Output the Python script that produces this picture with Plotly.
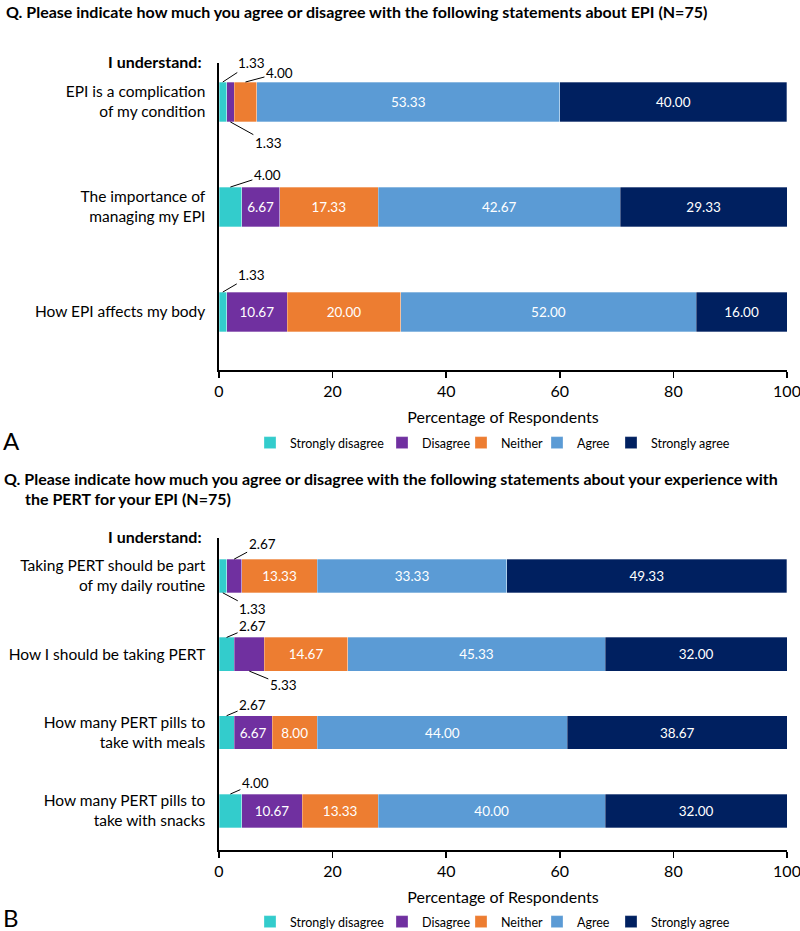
import plotly.graph_objects as go

# ---------------- data ----------------
series_names = ["Strongly disagree", "Disagree", "Neither", "Agree", "Strongly agree"]
series_colors = ["#33CCCC", "#7030A0", "#ED7D31", "#5B9BD5", "#002060"]

categories_A = ["EPI is a complication<br>of my condition",
                "The importance of<br>managing my EPI",
                "How EPI affects my body"]
A_strongly_disagree = [1.33, 4.00, 1.33]
A_disagree = [1.33, 6.67, 10.67]
A_neither = [4.00, 17.33, 20.00]
A_agree = [53.33, 42.67, 52.00]
A_strongly_agree = [40.00, 29.33, 16.00]

categories_B = ["Taking PERT should be part<br>of my daily routine",
                "How I should be taking PERT",
                "How many PERT pills to<br>take with meals",
                "How many PERT pills to<br>take with snacks"]
B_strongly_disagree = [1.33, 2.67, 2.67, 4.00]
B_disagree = [2.67, 5.33, 6.67, 10.67]
B_neither = [13.33, 14.67, 8.00, 13.33]
B_agree = [33.33, 45.33, 44.00, 40.00]
B_strongly_agree = [49.33, 32.00, 38.67, 32.00]

x_ticks = [0, 20, 40, 60, 80, 100]

title_A = "Q. Please indicate how much you agree or disagree with the following statements about EPI (N=75)"
title_B1 = "Q. Please indicate how much you agree or disagree with the following statements about your experience with"
title_B2 = "the PERT for your EPI (N=75)"

# outside labels: (panel, row, series index) -> (side, ax, ay)
outside_labels = {
    ("A", 0, 0): ("above", 29, -19),
    ("A", 0, 2): ("above", 34, -9),
    ("A", 0, 1): ("below", 38, 21),
    ("A", 1, 0): ("above", 37, -12),
    ("A", 2, 0): ("above", 29, -17),
    ("B", 0, 1): ("above", 28, -15),
    ("B", 0, 0): ("below", 30, 16),
    ("B", 1, 0): ("above", 26, -11),
    ("B", 1, 1): ("below", 34, 14),
    ("B", 2, 0): ("above", 26, -11),
    ("B", 3, 0): ("above", 25, -11),
}

# legend entry left positions (px) for each series
legend_x_px = [250, 382, 461, 537, 611]

FONT = "Lato"
W, H = 800, 931

def py(px):
    return 1 - px / H

panels = {
    "A": dict(cats=categories_A,
              vals=[A_strongly_disagree, A_disagree, A_neither, A_agree, A_strongly_agree],
              xaxis="x", yaxis="y", width=0.38, legend_y=443, leg_offset=0),
    "B": dict(cats=categories_B,
              vals=[B_strongly_disagree, B_disagree, B_neither, B_agree, B_strongly_agree],
              xaxis="x2", yaxis="y2", width=0.43, legend_y=922, leg_offset=5),
}

fig = go.Figure()
annotations = []
legends = {}

for pname, p in panels.items():
    n = len(p["cats"])
    idx = list(range(n))
    for si, (name, color, vals) in enumerate(zip(series_names, series_colors, p["vals"])):
        texts = [f"{v:.2f}" if (pname, r, si) not in outside_labels else "" for r, v in enumerate(vals)]
        li = p["leg_offset"] + si + 1
        lname = "legend" if li == 1 else f"legend{li}"
        legends[lname] = dict(
            orientation="h", x=legend_x_px[si] / W, y=py(p["legend_y"]),
            xanchor="left", yanchor="middle", xref="container", yref="container",
            font=dict(family=FONT, size=12.5, color="black"),
            bgcolor="rgba(0,0,0,0)", itemwidth=30, borderwidth=0,
        )
        fig.add_trace(go.Bar(
            y=idx, x=vals, orientation="h", name=name,
            marker=dict(color=color, line=dict(color="rgba(255,255,255,0.5)", width=0.6)),
            width=p["width"],
            text=texts, textposition="inside", insidetextanchor="middle",
            textangle=0,
            textfont=dict(family=FONT, size=13.5, color="white"),
            xaxis=p["xaxis"], yaxis=p["yaxis"], legend=lname,
            showlegend=True, hoverinfo="skip",
        ))
    # outside labels with leader lines
    for r in range(n):
        cum = 0.0
        for si in range(5):
            v = p["vals"][si][r]
            key = (pname, r, si)
            if key in outside_labels:
                side, ax, ay = outside_labels[key]
                yy = r - p["width"] / 2 if side == "above" else r + p["width"] / 2
                annotations.append(dict(
                    x=cum + v / 2, y=yy, xref=p["xaxis"], yref=p["yaxis"],
                    text=f"{v:.2f}", showarrow=True, arrowhead=0, arrowwidth=1,
                    arrowcolor="black", ax=ax, ay=ay,
                    font=dict(family=FONT, size=13.5, color="black"),
                ))
            cum += v

bold = dict(family=FONT, size=16, color="black", weight="bold")
annotations += [
    dict(text=title_A, x=4 / W, y=py(12), xref="paper", yref="paper", xanchor="left",
         yanchor="middle", showarrow=False, font=bold),
    dict(text=title_B1, x=2 / W, y=py(479), xref="paper", yref="paper", xanchor="left",
         yanchor="middle", showarrow=False, font=bold),
    dict(text=title_B2, x=23 / W, y=py(499), xref="paper", yref="paper", xanchor="left",
         yanchor="middle", showarrow=False, font=bold),
    dict(text="I understand:", x=204 / W, y=py(61), xref="paper", yref="paper", xanchor="right",
         yanchor="middle", showarrow=False, font=bold),
    dict(text="I understand:", x=204 / W, y=py(536), xref="paper", yref="paper", xanchor="right",
         yanchor="middle", showarrow=False, font=bold),
    dict(text="A", x=1 / W, y=py(441), xref="paper", yref="paper", xanchor="left",
         yanchor="middle", showarrow=False, font=dict(family=FONT, size=24, color="black")),
    dict(text="B", x=1 / W, y=py(917), xref="paper", yref="paper", xanchor="left",
         yanchor="middle", showarrow=False, font=dict(family=FONT, size=24, color="black")),
]

x_dom = [219 / W, 787 / W]
common_x = dict(range=[0, 100], tickvals=x_ticks, showline=True, linecolor="black", linewidth=1.5,
                ticks="outside", ticklen=6, tickcolor="black", tickwidth=1.5, showgrid=False,
                zeroline=False, tickfont=dict(family=FONT, size=16, color="black"),
                ticklabeloverflow="allow",
                title=dict(text="Percentage of Respondents", font=dict(family=FONT, size=16, color="black"),
                           standoff=13),
                domain=x_dom, fixedrange=True, automargin=False)
common_y = dict(showline=True, linecolor="black", linewidth=1.6, ticks="", showgrid=False,
                zeroline=False, tickfont=dict(family=FONT, size=15.5, color="black"),
                ticklabelstandoff=9, fixedrange=True, automargin=False)

fig.update_layout(
    width=W, height=H, margin=dict(l=0, r=0, t=0, b=0, autoexpand=False),
    paper_bgcolor="white", plot_bgcolor="white",
    barmode="stack", bargap=0,
    showlegend=True,
    xaxis=dict(**common_x, anchor="y"),
    yaxis=dict(**common_y, anchor="x", domain=[py(370), py(63)], range=[2.552, -0.371],
               tickvals=list(range(len(categories_A))), ticktext=categories_A),
    xaxis2=dict(**common_x, anchor="y2"),
    yaxis2=dict(**common_y, anchor="x2", domain=[py(850), py(538)], range=[3.5, -0.485],
                tickvals=list(range(len(categories_B))), ticktext=categories_B),
    annotations=annotations,
    font=dict(family=FONT, color="black"),
    **legends,
)

fig.write_html(
    "out.html",
    config={"displayModeBar": False, "staticPlot": True},
    post_script="document.body.style.margin='0px';document.body.style.overflow='hidden';",
)
